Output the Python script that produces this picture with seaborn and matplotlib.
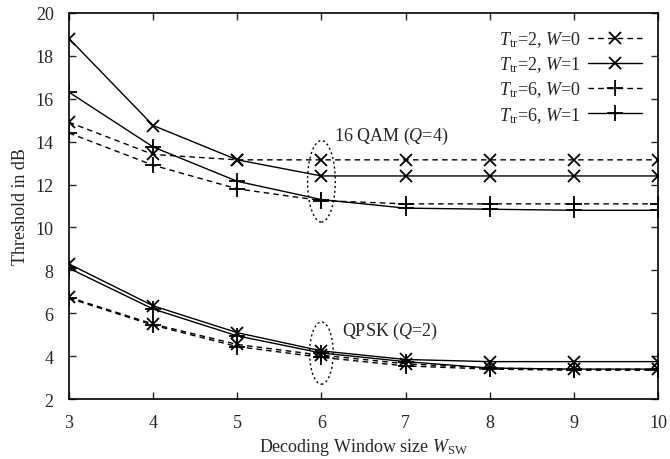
import pandas as pd
import matplotlib.pyplot as plt
from matplotlib.patches import Ellipse
import seaborn as sns

# Decoding window sizes on the x axis
window_sizes = [3, 4, 5, 6, 7, 8, 9, 10]

# 16 QAM (Q=4) thresholds in dB
qam_t2_w0 = [14.9, 13.4, 13.15, 13.15, 13.15, 13.15, 13.15, 13.15]
qam_t2_w1 = [18.8, 14.75, 13.15, 12.4, 12.4, 12.4, 12.4, 12.4]
qam_t6_w0 = [14.4, 12.9, 11.8, 11.25, 11.1, 11.1, 11.1, 11.1]
qam_t6_w1 = [16.3, 13.75, 12.15, 11.3, 10.9, 10.85, 10.8, 10.8]

# QPSK (Q=2) thresholds in dB
qpsk_t2_w0 = [6.75, 5.5, 4.55, 4.05, 3.65, 3.45, 3.4, 3.4]
qpsk_t2_w1 = [8.3, 6.35, 5.1, 4.25, 3.85, 3.75, 3.75, 3.75]
qpsk_t6_w0 = [6.7, 5.45, 4.45, 3.95, 3.55, 3.4, 3.35, 3.35]
qpsk_t6_w1 = [8.1, 6.2, 4.95, 4.15, 3.75, 3.45, 3.4, 3.4]

legend_labels = [r"$T_{\rm tr}$=2, $W$=0", r"$T_{\rm tr}$=2, $W$=1",
                 r"$T_{\rm tr}$=6, $W$=0", r"$T_{\rm tr}$=6, $W$=1"]

sns.set_style("ticks")
plt.rcParams['font.family'] = ['Liberation Serif', 'DejaVu Serif']
plt.rcParams['mathtext.fontset'] = 'custom'
plt.rcParams['mathtext.rm'] = 'Liberation Serif'
plt.rcParams['mathtext.it'] = 'Liberation Serif:italic'

fig = plt.figure(figsize=(6.7, 4.6), dpi=100)
ax = fig.add_axes([0.103, 0.130, 0.879, 0.840])

# (label, 16QAM data, QPSK data, dashes, marker, marker size)
series = [
    (legend_labels[0], qam_t2_w0, qpsk_t2_w0, (4, 3), 'x', 9),
    (legend_labels[1], qam_t2_w1, qpsk_t2_w1, '', 'x', 9),
    (legend_labels[2], qam_t6_w0, qpsk_t6_w0, (4, 3), '+', 12),
    (legend_labels[3], qam_t6_w1, qpsk_t6_w1, '', '+', 12),
]

for label, qam, qpsk, dash, mk, ms in series:
    df = pd.DataFrame({'w': window_sizes, 'qam': qam, 'qpsk': qpsk})
    kw = dict(color='black', linewidth=1.0, marker=mk, markersize=ms,
              markeredgewidth=1.3, markeredgecolor='black')
    line = sns.lineplot(data=df, x='w', y='qam', ax=ax, label=label, **kw).lines[-1]
    if dash:
        line.set_dashes(dash)
    line2 = sns.lineplot(data=df, x='w', y='qpsk', ax=ax, legend=False, **kw).lines[-1]
    if dash:
        line2.set_dashes(dash)

# dotted ellipses marking the two modulation groups
ax.add_patch(Ellipse((6.0, 12.15), 0.33, 3.8, fill=False, linestyle=(0, (1.5, 2)),
                     edgecolor='black', linewidth=1.0))
ax.add_patch(Ellipse((6.0, 4.15), 0.28, 2.9, fill=False, linestyle=(0, (1.5, 2)),
                     edgecolor='black', linewidth=1.0))
ax.text(6.15, 14.3, r"16 QAM ($Q$=4)", fontsize=13, va='center')
ax.text(6.25, 5.2, r"QPSK ($Q$=2)", fontsize=13, va='center')

ax.set_xlim(3, 10)
ax.set_ylim(2, 20)
ax.set_xticks(window_sizes)
ax.set_yticks(range(2, 21, 2))
ax.tick_params(direction='in', top=True, right=True, labelsize=13, length=5,
               width=1.0, pad=11)
for sp in ax.spines.values():
    sp.set_linewidth(1.2)
    sp.set_color('black')
ax.set_xlabel(r"Decoding Window size $W_{\rm SW}$", fontsize=13, labelpad=3)
ax.set_ylabel("Threshold in dB", fontsize=13, labelpad=5)

ax.legend(loc='upper right', frameon=False, markerfirst=False, fontsize=13,
          handlelength=3.0, labelspacing=0.3, borderaxespad=0.5,
          handletextpad=0.4)

plt.savefig('out.png', dpi=100)
plt.close()
